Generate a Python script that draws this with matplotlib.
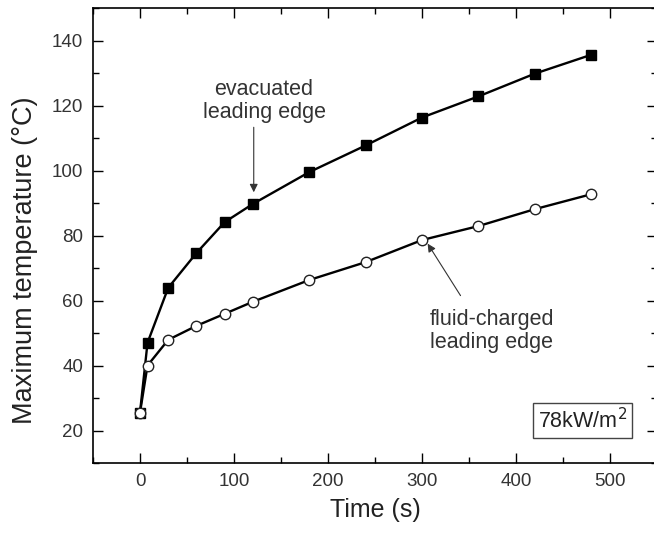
import matplotlib.pyplot as plt
from matplotlib.ticker import MultipleLocator

plt.rcParams['font.family'] = ['Liberation Sans', 'DejaVu Sans']

# Data
time_s = [0, 8, 30, 60, 90, 120, 180, 240, 300, 360, 420, 480]
evacuated = [25.5, 47.0, 63.9, 74.6, 84.1, 89.7, 99.5, 107.7, 116.3, 122.8, 129.8, 135.6]
fluid_charged = [25.5, 40.0, 47.9, 52.2, 55.9, 59.6, 66.3, 71.8, 78.6, 82.9, 88.1, 92.7]

fig = plt.figure(figsize=(6.54, 5.33), dpi=100)
ax = fig.add_axes([93 / 654, 1 - 463 / 533, (657 - 93) / 654, (463 - 8) / 533])

ax.plot(time_s, evacuated, color="black", lw=1.7, marker="s", ms=7,
        mfc="black", mec="black", zorder=3)
ax.plot(time_s, fluid_charged, color="black", lw=1.7, marker="o", ms=7.5,
        mfc="white", mec="#222222", mew=1.0, zorder=3)

ax.set_xlim(-50, 550)
ax.set_ylim(10, 150)
ax.xaxis.set_major_locator(MultipleLocator(100))
ax.xaxis.set_minor_locator(MultipleLocator(50))
ax.yaxis.set_major_locator(MultipleLocator(20))
ax.yaxis.set_minor_locator(MultipleLocator(10))
ax.tick_params(which="both", direction="in", top=True, right=True,
               labelsize=13.5, labelcolor="#333333", width=1.0)
ax.tick_params(which="major", length=7, pad=7)
ax.tick_params(which="minor", length=4)
for s in ax.spines.values():
    s.set_linewidth(1.2)

ax.set_xlabel("Time (s)", fontsize=18, color="#222222", labelpad=6)
ax.set_ylabel("Maximum temperature (\u00b0C)", fontsize=19.5, color="#222222")
ax.yaxis.set_label_coords(-0.098, 0.446)

# annotations
ax.text(132, 121.3, "evacuated\nleading edge", ha="center", va="center",
        fontsize=15.5, color="#333333", linespacing=1.15)
ax.annotate("", xy=(121, 93.3), xytext=(121, 113.3),
            arrowprops=dict(arrowstyle="-|>", color="#333333", lw=0.8,
                            mutation_scale=12, shrinkA=0, shrinkB=0))
ax.annotate("", xy=(306, 77.5), xytext=(341, 61.5),
            arrowprops=dict(arrowstyle="-|>", color="#333333", lw=0.8,
                            mutation_scale=12, shrinkA=0, shrinkB=0))
ax.text(308, 50.6, "fluid-charged\nleading edge", ha="left", va="center",
        fontsize=15.5, color="#333333", linespacing=1.15)

ax.text(471, 23, "78kW/m$^2$", ha="center", va="center", fontsize=15.5,
        color="#222222",
        bbox=dict(boxstyle="square,pad=0.22", fc="white", ec="#444444", lw=1.0))

fig.savefig("out.png", dpi=100)
